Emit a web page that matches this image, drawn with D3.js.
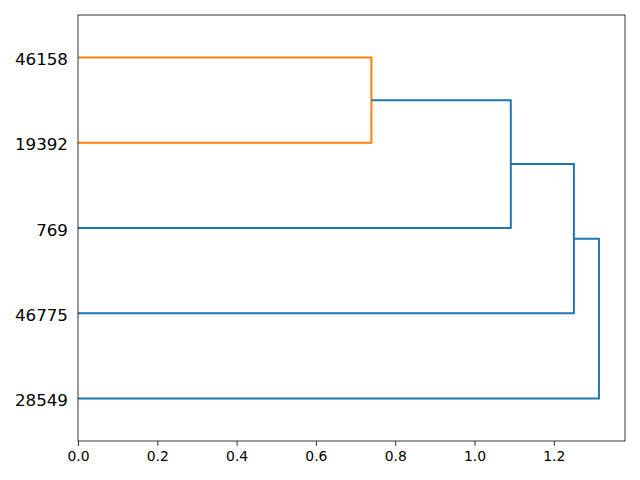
<!DOCTYPE html>
<html>
<head>
<meta charset="utf-8">
<script src="https://cdn.jsdelivr.net/npm/d3@7"></script>
<style>
  body { margin: 0; background: #fff; }
  text { font-family: "DejaVu Sans", sans-serif; }
</style>
</head>
<body>
<script>
// leaves from bottom to top
var leaves = ["28549", "46775", "769", "19392", "46158"];
// merge heights, lowest first (first merge is 19392 + 46158)
var heights = [0.740, 1.0915, 1.2506, 1.3138];
var xTicks = [0.0, 0.2, 0.4, 0.6, 0.8, 1.0, 1.2];
var colors = ["#ff7f0e", "#1f77b4", "#1f77b4", "#1f77b4"];

var width = 640, height = 480;
var margin = {left: 78, right: 15, top: 15, bottom: 39};

var svg = d3.select("body").append("svg")
  .attr("width", width).attr("height", height);

var x = d3.scaleLinear()
  .domain([0, d3.max(heights) * 1.05])
  .range([margin.left, width - margin.right]);

// scipy style leaf positions 5, 15, 25 ...
var y = d3.scaleLinear()
  .domain([0, leaves.length * 10])
  .range([height - margin.bottom, margin.top]);

function leafPos(i) { return i * 10 + 5; }

// build links: first merge the top two, then add one leaf each time going down
var links = [];
var center = (leafPos(4) + leafPos(3)) / 2;
links.push({a: leafPos(4), ha: 0, b: leafPos(3), hb: 0, h: heights[0], c: colors[0]});
var prevH = heights[0];
for (var k = 1; k < heights.length; k++) {
  var leafIdx = 3 - k;
  links.push({a: center, ha: prevH, b: leafPos(leafIdx), hb: 0, h: heights[k], c: colors[k]});
  center = (center + leafPos(leafIdx)) / 2;
  prevH = heights[k];
}

svg.selectAll("path.link")
  .data(links)
  .enter()
  .append("path")
  .attr("class", "link")
  .attr("d", function(d) {
    return "M" + x(d.ha) + "," + y(d.a) +
      "H" + x(d.h) + "V" + y(d.b) + "H" + x(d.hb);
  })
  .style("fill", "none")
  .style("stroke", function(d) { return d.c; })
  .style("stroke-width", 2);

// axes
var xAxis = d3.axisBottom(x)
  .tickValues(xTicks)
  .tickFormat(d3.format(".1f"))
  .tickSizeOuter(0)
  .tickSize(4.9)
  .tickPadding(5.5);

var gx = svg.append("g")
  .attr("transform", "translate(0," + (height - margin.bottom) + ")")
  .call(xAxis);
gx.select(".domain").remove();
gx.selectAll("text").style("font-size", "13.9px").style("font-family", "DejaVu Sans").attr("fill", "#000");
gx.selectAll("line").attr("stroke", "#000").attr("stroke-width", 0.8);

var yAxis = d3.axisLeft(y)
  .tickValues(leaves.map(function(d, i) { return leafPos(i); }))
  .tickFormat(function(d, i) { return leaves[i]; })
  .tickSize(0)
  .tickPadding(10);

var gy = svg.append("g")
  .attr("transform", "translate(" + margin.left + ",0)")
  .call(yAxis);
gy.select(".domain").remove();
gy.selectAll("text")
  .attr("dy", "0.42em")
  .style("font-size", "16.7px").style("font-family", "DejaVu Sans").attr("fill", "#000");

// frame
svg.append("rect")
  .attr("x", margin.left).attr("y", margin.top)
  .attr("width", width - margin.left - margin.right)
  .attr("height", height - margin.top - margin.bottom)
  .style("fill", "none")
  .style("stroke", "#000")
  .style("stroke-width", 0.8);
</script>
</body>
</html>
